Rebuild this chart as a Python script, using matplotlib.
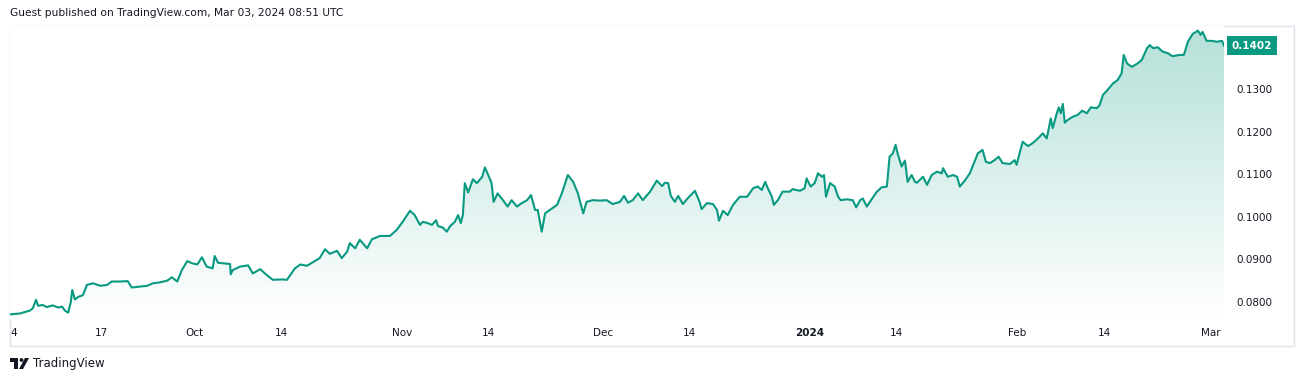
import matplotlib.pyplot as plt
import matplotlib.dates as mdates
import matplotlib.transforms as mtransforms
from matplotlib.patches import Rectangle, Polygon, Circle
import numpy as np
import pandas as pd

# data: days after 2023-09-04 and price
days = [-0.6, 0.9, 2.4, 2.8, 3.3, 3.6, 4.3, 4.9, 5.8, 6.6, 7.2, 7.6, 8.1, 8.5, 8.7, 9.1, 9.6, 10.3, 10.9, 11.8,
        12.9, 13.9, 14.6, 15.8, 17.0, 17.6, 18.8, 19.9, 20.8, 21.8, 22.9, 23.6, 24.4, 25.1, 25.9, 26.6, 27.4, 28.1,
        28.8, 29.7, 30.0, 30.5, 31.2, 32.3, 32.4, 32.7, 33.8, 35.0, 35.7, 36.8, 37.8, 38.7, 40.1, 40.8, 41.3, 42.0,
        42.8, 43.8, 45.7, 46.5, 47.2, 48.3, 49.0, 49.8, 50.2, 51.0, 51.7, 52.8, 53.5, 54.7, 56.2, 57.2, 58.1, 59.2,
        59.9, 60.7, 61.1, 61.7, 62.5, 63.1, 63.4, 64.1, 64.7, 65.2, 65.9, 66.4, 66.8, 67.1, 67.4, 67.9, 68.6, 69.2,
        70.0, 70.4, 70.9, 71.4, 71.7, 72.3, 73.1, 73.8, 74.4, 75.2, 75.9, 76.7, 77.3, 77.9, 78.3, 78.9, 79.4, 80.1,
        81.2, 81.9, 82.8, 83.6, 84.3, 85.1, 85.6, 86.5, 87.6, 88.6, 89.5, 90.6, 91.2, 91.8, 92.5, 93.3, 94.0, 95.1,
        96.1, 96.9, 97.3, 97.8, 98.2, 98.8, 99.3, 100.0, 100.7, 101.8, 102.5, 102.8, 103.6, 104.5, 105.1, 105.4,
        106.0, 106.7, 107.5, 108.5, 109.6, 110.5, 111.2, 111.8, 112.3, 112.7, 113.3, 113.6, 114.2, 114.9, 116.0,
        116.4, 117.5, 118.2, 118.5, 119.1, 119.7, 120.2, 120.8, 121.1, 121.4, 122.0, 122.7, 123.2, 123.6, 124.5,
        125.4, 125.9, 126.5, 126.9, 127.5, 128.3, 129.0, 129.7, 130.5, 130.9, 131.4, 131.8, 132.1, 132.7, 133.2,
        133.6, 134.2, 134.7, 135.0, 135.9, 136.5, 137.2, 138.0, 138.7, 138.9, 139.6, 140.4, 141.0, 141.4, 142.2,
        142.9, 143.3, 144.1, 144.8, 145.3, 145.9, 146.6, 147.2, 147.8, 148.9, 149.6, 149.9, 150.4, 150.8, 151.6,
        152.3, 153.1, 153.8, 154.4, 155.0, 155.3, 155.9, 156.2, 156.5, 156.8, 157.1, 157.5, 158.3, 159.0, 159.7,
        160.4, 161.0, 161.9, 162.3, 162.8, 163.5, 164.3, 165.0, 165.6, 165.9, 166.4, 167.1, 167.9, 168.6, 169.4,
        169.8, 170.3, 171.0, 171.7, 172.5, 173.2, 174.3, 174.9, 175.5, 176.2, 177.0, 177.4, 177.7, 178.3, 179.1,
        179.8, 180.6, 180.9]
price = [0.0771, 0.0773, 0.0780, 0.0785, 0.0805, 0.0791, 0.0793, 0.0788, 0.0792, 0.0787, 0.0789, 0.0780, 0.0775,
         0.0801, 0.0828, 0.0806, 0.0812, 0.0816, 0.0840, 0.0844, 0.0838, 0.0840, 0.0848, 0.0848, 0.0849, 0.0834,
         0.0836, 0.0838, 0.0844, 0.0846, 0.0850, 0.0858, 0.0848, 0.0875, 0.0896, 0.0891, 0.0888, 0.0905, 0.0883,
         0.0879, 0.0908, 0.0892, 0.0891, 0.0889, 0.0865, 0.0875, 0.0883, 0.0886, 0.0867, 0.0877, 0.0863, 0.0852,
         0.0853, 0.0852, 0.0863, 0.0879, 0.0888, 0.0885, 0.0903, 0.0924, 0.0913, 0.0920, 0.0903, 0.0918, 0.0938,
         0.0926, 0.0946, 0.0926, 0.0947, 0.0955, 0.0955, 0.0969, 0.0988, 0.1014, 0.1004, 0.0981, 0.0988, 0.0986,
         0.0981, 0.0992, 0.0978, 0.0975, 0.0965, 0.0978, 0.0988, 0.1004, 0.0985, 0.1004, 0.1079, 0.1057, 0.1088,
         0.1079, 0.1094, 0.1116, 0.1098, 0.1079, 0.1035, 0.1055, 0.1039, 0.1024, 0.1039, 0.1024, 0.1032, 0.1039,
         0.1051, 0.1016, 0.1016, 0.0965, 0.1008, 0.1016, 0.1028, 0.1055, 0.1098, 0.1082, 0.1055, 0.1008, 0.1035,
         0.1039, 0.1038, 0.1039, 0.1030, 0.1035, 0.1049, 0.1033, 0.1039, 0.1055, 0.1039, 0.1059, 0.1085, 0.1072,
         0.1080, 0.1079, 0.1049, 0.1035, 0.1049, 0.1030, 0.1043, 0.1061, 0.1035, 0.1018, 0.1032, 0.1030, 0.1016,
         0.0991, 0.1014, 0.1004, 0.1028, 0.1047, 0.1047, 0.1067, 0.1071, 0.1063, 0.1082, 0.1067, 0.1047, 0.1028,
         0.1039, 0.1059, 0.1059, 0.1065, 0.1061, 0.1067, 0.1090, 0.1071, 0.1079, 0.1102, 0.1094, 0.1098, 0.1047,
         0.1079, 0.1071, 0.1047, 0.1039, 0.1041, 0.1039, 0.1022, 0.1039, 0.1043, 0.1024, 0.1043, 0.1059, 0.1069,
         0.1071, 0.1141, 0.1149, 0.1169, 0.1149, 0.1118, 0.1132, 0.1082, 0.1098, 0.1082, 0.1080, 0.1094, 0.1075,
         0.1098, 0.1106, 0.1102, 0.1114, 0.1094, 0.1098, 0.1094, 0.1071, 0.1086, 0.1102, 0.1118, 0.1149, 0.1157,
         0.1129, 0.1126, 0.1133, 0.1141, 0.1126, 0.1124, 0.1133, 0.1122, 0.1153, 0.1176, 0.1166, 0.1173, 0.1184,
         0.1196, 0.1184, 0.1231, 0.1208, 0.1243, 0.1257, 0.1243, 0.1265, 0.1221, 0.1227, 0.1235, 0.1239, 0.1249,
         0.1243, 0.1257, 0.1255, 0.1262, 0.1286, 0.1298, 0.1313, 0.1321, 0.1337, 0.1380, 0.1360, 0.1352, 0.1359,
         0.1368, 0.1396, 0.1403, 0.1396, 0.1398, 0.1388, 0.1384, 0.1377, 0.1380, 0.1380, 0.1411, 0.1429, 0.1437,
         0.1427, 0.1434, 0.1413, 0.1413, 0.1411, 0.1413, 0.1402]
last_price = 0.1402

tick_dates = ["2023-09-04", "2023-09-17", "2023-10-01", "2023-10-14", "2023-11-01", "2023-11-14", "2023-12-01",
              "2023-12-14", "2024-01-01", "2024-01-14", "2024-02-01", "2024-02-14", "2024-03-01"]
tick_labels = ["4", "17", "Oct", "14", "Nov", "14", "Dec", "14", "2024", "14", "Feb", "14", "Mar"]
price_ticks = [0.08, 0.09, 0.10, 0.11, 0.12, 0.13]

teal = "#089981"
txt = "#131722"
W, H = 1304, 382

fig = plt.figure(figsize=(W / 100, H / 100), dpi=100)
plt.rcParams['font.family'] = ['DejaVu Sans']

# pixel overlay for frame, header and logo
bg = fig.add_axes([0, 0, 1, 1])
bg.set_xlim(0, W)
bg.set_ylim(H, 0)
bg.axis('off')
bg.add_patch(Rectangle((10, 26), 1284, 320, fill=False, ec="#e0e3eb", lw=1))
bg.text(10, 13, "Guest published on TradingView.com, Mar 03, 2024 08:51 UTC", fontsize=7.7, color=txt,
        ha='left', va='center')
bg.add_patch(Rectangle((10, 358), 8, 3.5, color=txt, lw=0))
bg.add_patch(Rectangle((14, 358), 4, 11, color=txt, lw=0))
bg.add_patch(Circle((21.5, 360), 1.9, color=txt, lw=0))
bg.add_patch(Polygon([(19, 369), (23, 369), (29, 358), (25, 358)], closed=True, color=txt, lw=0))
bg.text(33, 364, "TradingView", fontsize=8.5, color=txt, ha='left', va='center')

ax = fig.add_axes([10 / W, 1 - 320 / H, 1214 / W, 294 / H])
start = pd.Timestamp("2023-09-04")
dates = start + pd.to_timedelta(days, unit='D')
x = mdates.date2num(dates)
y = np.array(price)

ymin, ymax = 0.07577, 0.14479
ax.set_xlim(mdates.date2num(start + pd.Timedelta(days=-0.6)), mdates.date2num(start + pd.Timedelta(days=180.9)))
ax.set_ylim(ymin, ymax)

# gradient area under the line
img = np.zeros((256, 1, 4))
img[:, :, :3] = np.array([8, 153, 129]) / 255
img[:, 0, 3] = np.linspace(0.0, 0.3, 256)
im = ax.imshow(img, extent=[x.min(), x.max(), ymin, y.max()], aspect='auto', origin='lower', zorder=1)
verts = np.vstack([[x[0], ymin], np.column_stack([x, y]), [x[-1], ymin]])
clip = Polygon(verts, closed=True, fc='none', ec='none', transform=ax.transData)
ax.add_patch(clip)
im.set_clip_path(clip)
ax.plot(x, y, color=teal, lw=1.5, solid_joinstyle='round', zorder=2)

for s in ax.spines.values():
    s.set_visible(False)
ax.set_xticks(mdates.date2num(pd.to_datetime(tick_dates)))
ax.set_xticklabels(tick_labels)
ax.tick_params(axis='x', length=0, pad=6, labelsize=7.5, labelcolor=txt)
for lab in ax.get_xticklabels():
    if lab.get_text() == "2024":
        lab.set_fontweight('bold')
ax.yaxis.tick_right()
ax.set_yticks(price_ticks)
ax.set_yticklabels(["%.4f" % p for p in price_ticks])
ax.tick_params(axis='y', length=0, pad=9, labelsize=7.5, labelcolor=txt)

trans = mtransforms.blended_transform_factory(ax.transAxes, ax.transData)
ax.text(1.0065, last_price, "%.4f" % last_price, transform=trans, ha='left', va='center', color='white',
        fontsize=7.5, fontweight='bold',
        bbox=dict(boxstyle='square,pad=0.45', fc=teal, ec='none'), clip_on=False)

fig.savefig("out.png", dpi=100)
